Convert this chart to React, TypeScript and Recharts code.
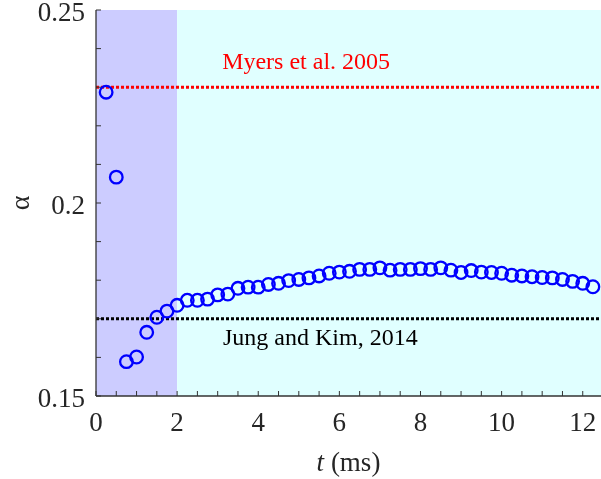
import React from 'react';
import {
  ScatterChart, Scatter, XAxis, YAxis, ReferenceArea, ReferenceLine, ReferenceDot, Label,
} from 'recharts';

// time (ms) and growth coefficient alpha
const times = [
  0.25, 0.5, 0.75, 1.0, 1.25, 1.5, 1.75, 2.0, 2.25, 2.5, 2.75, 3.0, 3.25, 3.5, 3.75, 4.0,
  4.25, 4.5, 4.75, 5.0, 5.25, 5.5, 5.75, 6.0, 6.25, 6.5, 6.75, 7.0, 7.25, 7.5, 7.75, 8.0,
  8.25, 8.5, 8.75, 9.0, 9.25, 9.5, 9.75, 10.0, 10.25, 10.5, 10.75, 11.0, 11.25, 11.5, 11.75,
  12.0, 12.25,
];
const alphas = [
  0.2287, 0.2067, 0.1589, 0.1601, 0.1665, 0.1704, 0.1720, 0.1735, 0.1748, 0.1748, 0.1751,
  0.1762, 0.1764, 0.1779, 0.1782, 0.1782, 0.1789, 0.1792, 0.1799, 0.1802, 0.1806, 0.1811,
  0.1818, 0.1821, 0.1823, 0.1828, 0.1828, 0.1832, 0.1826, 0.1828, 0.1828, 0.1830, 0.1828,
  0.1832, 0.1826, 0.1820, 0.1825, 0.1821, 0.1820, 0.1818, 0.1813, 0.1811, 0.1809, 0.1807,
  0.1806, 0.1802, 0.1797, 0.1792, 0.1783,
];

const xTicks = [0, 0.5, 1, 1.5, 2, 2.5, 3, 3.5, 4, 4.5, 5, 5.5, 6, 6.5, 7, 7.5, 8, 8.5, 9, 9.5, 10, 10.5, 11, 11.5, 12];
const xLabels = [0, 2, 4, 6, 8, 10, 12];
const yTicks = [0.15, 0.16, 0.17, 0.18, 0.19, 0.2, 0.21, 0.22, 0.23, 0.24, 0.25];
const yLabels = [0.15, 0.2, 0.25];

const myersAlpha = 0.23;
const jungAlpha = 0.17;
const earlyEnd = 2;
const tMax = 12.45;

const notes = [
  { t: 5.18, alpha: 0.2368, text: 'Myers et al. 2005', color: '#ff0000' },
  { t: 5.53, alpha: 0.1652, text: 'Jung and Kim, 2014', color: '#000000' },
];

const data = times.map((t, i) => ({ t, alpha: alphas[i] }));

const FONT = '"Liberation Serif", "Times New Roman", serif';
const AXIS = '#333333';
const TICK = 5;

const BottomTick = (props: any) => {
  const { x, y, payload } = props;
  const major = xLabels.includes(payload.value);
  return (
    <g>
      <line x1={x} y1={y} x2={x} y2={y - TICK} stroke={AXIS} strokeWidth={1} />
      {major && (
        <text x={x} y={y + 26} textAnchor="middle" dominantBaseline="central"
          fontFamily={FONT} fontSize={27} fill="#262626">
          {payload.value}
        </text>
      )}
    </g>
  );
};

const TopTick = (props: any) => {
  const { x, y } = props;
  return <line x1={x} y1={y} x2={x} y2={y + TICK} stroke={AXIS} strokeWidth={1} />;
};

const LeftTick = (props: any) => {
  const { x, y, payload } = props;
  const major = yLabels.includes(payload.value);
  return (
    <g>
      <line x1={x} y1={y} x2={x + TICK} y2={y} stroke={AXIS} strokeWidth={1} />
      {major && (
        <text x={x - 11} y={y + 2} textAnchor="end" dominantBaseline="central"
          fontFamily={FONT} fontSize={27} fill="#262626">
          {String(payload.value)}
        </text>
      )}
    </g>
  );
};

const NoteText = (color: string, text: string) => (p: any) => (
  <text x={p.cx} y={p.cy} textAnchor="middle" dominantBaseline="central"
    fontFamily={FONT} fontSize={24} fill={color}>
    {text}
  </text>
);

export default function App() {
  return (
    <div style={{ position: 'fixed', left: 0, top: 0 }}>
      <ScatterChart width={601} height={479} margin={{ top: 10, right: 0, bottom: 0, left: 0 }}>
        <XAxis
          type="number" dataKey="t" domain={[0, tMax]} ticks={xTicks} allowDataOverflow
          height={83} tickSize={0} tickMargin={0} tickLine={false}
          axisLine={{ stroke: AXIS, strokeWidth: 1.3 }} tick={<BottomTick />} interval={0}
        >
          <Label
            content={({ viewBox }: any) => (
              <text x={viewBox.x + viewBox.width / 2} y={viewBox.y + 75} textAnchor="middle"
                fontFamily={FONT} fontSize={27} fill="#262626">
                <tspan fontStyle="italic">t</tspan> (ms)
              </text>
            )}
          />
        </XAxis>
        <XAxis
          xAxisId="top" orientation="top" type="number" domain={[0, tMax]} ticks={xTicks}
          allowDataOverflow height={0} tickSize={0} tickMargin={0} tickLine={false}
          axisLine={{ stroke: AXIS, strokeWidth: 1.3 }} tick={<TopTick />} interval={0}
        />
        <YAxis
          type="number" dataKey="alpha" domain={[0.15, 0.25]} ticks={yTicks} allowDataOverflow
          width={96} tickSize={0} tickMargin={0} tickLine={false}
          axisLine={{ stroke: AXIS, strokeWidth: 1.3 }} tick={<LeftTick />} interval={0}
        >
          <Label
            content={({ viewBox }: any) => (
              <text x={19} y={viewBox.y + viewBox.height / 2} textAnchor="middle"
                dominantBaseline="central" fontFamily={FONT} fontSize={28} fill="#262626"
                transform={`rotate(-90 19 ${viewBox.y + viewBox.height / 2})`}>
                α
              </text>
            )}
          />
        </YAxis>
        <ReferenceArea x1={0} x2={earlyEnd} y1={0.15} y2={0.25} fill="#ccccff" fillOpacity={1} stroke="none" />
        <ReferenceArea x1={earlyEnd} x2={tMax} y1={0.15} y2={0.25} fill="#e0ffff" fillOpacity={1} stroke="none" />
        <ReferenceLine y={myersAlpha} stroke="#ff0000" strokeWidth={3} strokeDasharray="3 2" />
        <ReferenceLine y={jungAlpha} stroke="#000000" strokeWidth={3} strokeDasharray="3 2" />
        {notes.map((n) => (
          <ReferenceDot key={n.text} x={n.t} y={n.alpha} r={0} shape={NoteText(n.color, n.text)} />
        ))}
        <Scatter
          data={data} isAnimationActive={false}
          shape={(p: any) => (
            <circle cx={p.cx} cy={p.cy} r={6.3} fill="none" stroke="#0000ff" strokeWidth={2.3} />
          )}
        />
      </ScatterChart>
    </div>
  );
}
